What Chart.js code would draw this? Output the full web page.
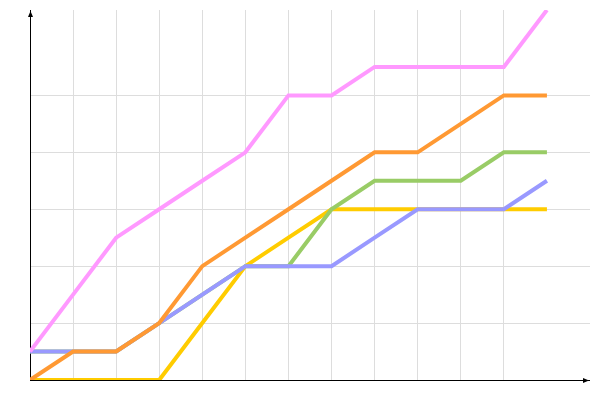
<!DOCTYPE html>
<html>
<head>
<meta charset="utf-8">
<script src="https://cdn.jsdelivr.net/npm/chart.js@4/dist/chart.umd.min.js"></script>
<style>
    html, body { margin: 0; padding: 0; background: #fff; }
    #wrap { width: 600px; height: 400px; }
</style>
</head>
<body>
<div id="wrap"><canvas id="lineChart"></canvas></div>
<script>
// x positions (0..12), y values in half steps
const xValues = [0, 1, 2, 3, 4, 5, 6, 7, 8, 9, 10, 11, 12];
const pinkValues = [0.5, 1.5, 2.5, 3, 3.5, 4, 5, 5, 5.5, 5.5, 5.5, 5.5, 6.5];
const orangeValues = [0, 0.5, 0.5, 1, 2, 2.5, 3, 3.5, 4, 4, 4.5, 5, 5];
const blueValues = [0.5, 0.5, 0.5, 1, 1.5, 2, 2, 2, 2.5, 3, 3, 3, 3.5];
const greenValues = [0.5, 0.5, 0.5, 1, 1.5, 2, 2, 3, 3.5, 3.5, 3.5, 4, 4];
const yellowValues = [0, 0, 0, 0, 1, 2, 2.5, 3, 3, 3, 3, 3, 3];

const xMax = 13;
const yMax = 6.5;

function toPoints(values) {
    return values.map((v, i) => ({ x: xValues[i], y: v }));
}

function makeDataset(values, color) {
    return {
        data: toPoints(values),
        borderColor: color,
        backgroundColor: color,
        borderWidth: 4,
        pointRadius: 0,
        tension: 0,
        fill: false,
    };
}

// axes with small arrow heads, drawn under the lines
const arrowAxes = {
    id: 'arrowAxes',
    beforeDatasetsDraw(chart) {
        const ctx = chart.ctx;
        const a = chart.chartArea;
        ctx.save();
        ctx.strokeStyle = '#000';
        ctx.fillStyle = '#000';
        ctx.lineWidth = 1;
        ctx.beginPath();
        ctx.moveTo(a.left + 0.5, a.bottom);
        ctx.lineTo(a.left + 0.5, a.top);
        ctx.moveTo(a.left, a.bottom + 0.5);
        ctx.lineTo(a.right, a.bottom + 0.5);
        ctx.stroke();

        ctx.beginPath();
        ctx.moveTo(a.left + 0.5, a.top + 1);
        ctx.lineTo(a.left - 2, a.top + 7);
        ctx.lineTo(a.left + 3, a.top + 7);
        ctx.closePath();
        ctx.fill();

        ctx.beginPath();
        ctx.moveTo(a.right - 1, a.bottom + 0.5);
        ctx.lineTo(a.right - 7, a.bottom - 2);
        ctx.lineTo(a.right - 7, a.bottom + 3);
        ctx.closePath();
        ctx.fill();
        ctx.restore();
    }
};

const lineChartConfig = {
    type: 'line',
    data: {
        // first dataset is drawn on top
        datasets: [
            makeDataset(pinkValues, '#ff99ff'),
            makeDataset(orangeValues, '#ff9933'),
            makeDataset(blueValues, '#9999ff'),
            makeDataset(greenValues, '#99cc66'),
            makeDataset(yellowValues, '#ffcc00'),
        ]
    },
    options: {
        responsive: true,
        maintainAspectRatio: false,
        animation: false,
        layout: {
            padding: { left: 30, top: 10, right: 10, bottom: 20 }
        },
        plugins: {
            legend: { display: false },
            tooltip: { enabled: false },
            title: { display: false }
        },
        scales: {
            x: {
                type: 'linear',
                min: 0,
                max: xMax,
                ticks: { display: false, stepSize: 1 },
                border: { display: false },
                grid: {
                    drawTicks: false,
                    color: (c) => (c.tick.value >= 1 && c.tick.value <= 11) ? '#dddddd' : 'rgba(0,0,0,0)',
                }
            },
            y: {
                min: 0,
                max: yMax,
                ticks: { display: false, stepSize: 1 },
                border: { display: false },
                grid: {
                    drawTicks: false,
                    color: (c) => (c.tick.value >= 1 && c.tick.value <= 5) ? '#dddddd' : 'rgba(0,0,0,0)',
                }
            }
        }
    },
    plugins: [arrowAxes]
};

const ctx = document.getElementById('lineChart').getContext('2d');
new Chart(ctx, lineChartConfig);
</script>
</body>
</html>
